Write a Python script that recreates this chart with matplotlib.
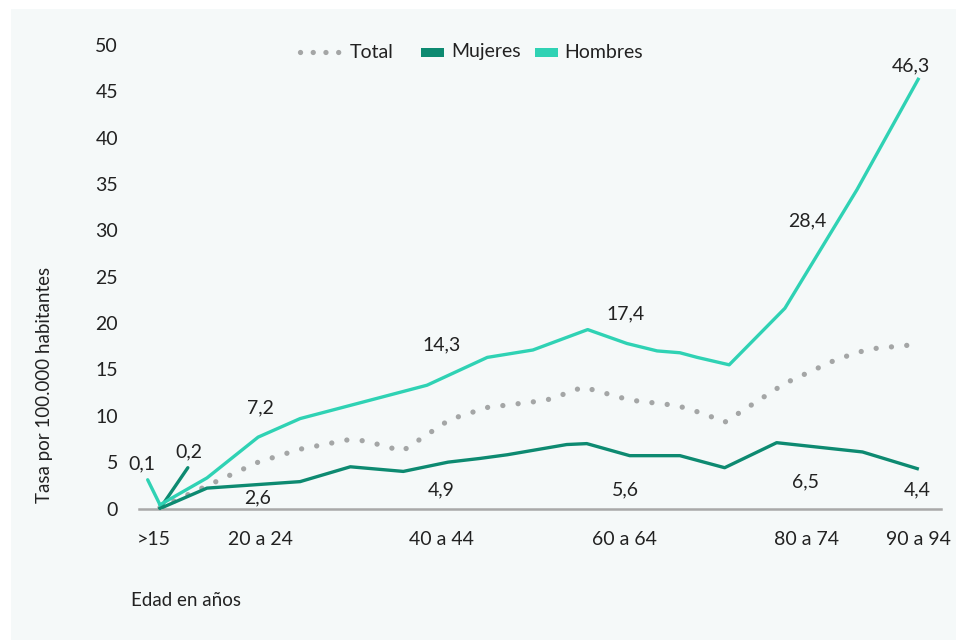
import matplotlib
matplotlib.use("Agg")
import matplotlib.pyplot as plt
from matplotlib.lines import Line2D
from matplotlib.patches import Rectangle

plt.rcParams['font.family'] = ['Lato', 'DejaVu Sans']

# posiciones en eje de edad (aprox.) y tasas por 100.000 habitantes
x_hombres = [11.05, 16.2, 21.8, 26.4, 40.3, 46.9, 51.9, 57.9, 62.2, 65.5, 68.0, 69.9, 73.4, 79.5, 87.4, 94.1]
hombres = [0.4, 3.3, 7.7, 9.7, 13.3, 16.3, 17.1, 19.3, 17.8, 17.0, 16.8, 16.3, 15.5, 21.6, 34.4, 46.3]

x_mujeres = [11.05, 16.2, 26.4, 31.9, 37.7, 42.6, 46.1, 49.1, 55.6, 57.8, 62.5, 68.0, 72.9, 78.6, 88.0, 94.0]
mujeres = [0.0, 2.2, 2.9, 4.5, 4.0, 5.0, 5.4, 5.8, 6.9, 7.0, 5.7, 5.7, 4.4, 7.1, 6.1, 4.3]

x_total = [11.05, 21.8, 26.4, 31.6, 33.5, 37.6, 42.8, 46.9, 51.9, 53.8, 57.4, 62.5, 67.7, 70.7, 72.9, 79.5, 85.2, 88.7, 92.9]
total = [0.1, 5.0, 6.4, 7.4, 7.3, 6.2, 9.6, 10.9, 11.5, 11.8, 13.1, 11.7, 11.1, 10.2, 9.3, 13.5, 16.1, 17.2, 17.6]

tick_pos = [10.4, 22.1, 41.9, 61.9, 81.9, 94.1]
tick_labels = ['>15', '20 a 24', '40 a 44', '60 a 64', '80 a 74', '90 a 94']

# etiquetas de datos: texto, x, y
etiquetas = [
    ('0,1', 9.1, 4.8), ('0,2', 14.2, 6.1),
    ('7,2', 22.1, 10.9), ('2,6', 21.7, 1.1),
    ('14,3', 41.9, 17.6), ('4,9', 41.9, 2.0),
    ('17,4', 62.0, 21.0), ('5,6', 62.0, 2.0),
    ('28,4', 81.9, 31.0), ('6,5', 81.8, 2.9),
    ('46,3', 93.3, 47.8), ('4,4', 94.0, 2.0),
]

c_hombres = '#2fd2b4'
c_mujeres = '#0d8a71'
c_total = '#a4a6a6'
c_texto = '#222222'
fondo = '#f5f9f9'

fig = plt.figure(figsize=(9.6, 6.4), dpi=100, facecolor='white')
fig.patches.append(Rectangle((11 / 960, 0), 945 / 960, 631 / 640, transform=fig.transFigure,
                             facecolor=fondo, edgecolor='none', zorder=-10))

ax = fig.add_axes([139 / 960, 131.5 / 640, 802 / 960, 463.5 / 640])
ax.set_facecolor('none')

ax.plot(x_total, total, color=c_total, lw=3.8, linestyle=(0, (0.01, 2.9)),
        dash_capstyle='round', solid_joinstyle='round', zorder=2)
ax.plot(x_mujeres, mujeres, color=c_mujeres, lw=2.4, solid_joinstyle='round', zorder=3)
ax.plot(x_hombres, hombres, color=c_hombres, lw=2.4, solid_joinstyle='round', zorder=4)

# lineas guia de las etiquetas 0,1 y 0,2
ax.annotate('', xy=(x_hombres[0], hombres[0]), xytext=(9.7, 3.1),
            arrowprops=dict(arrowstyle='-', color=c_hombres, lw=2.4, shrinkA=0, shrinkB=0))
ax.annotate('', xy=(x_mujeres[0], mujeres[0]), xytext=(14.1, 4.4),
            arrowprops=dict(arrowstyle='-', color=c_mujeres, lw=2.4, shrinkA=0, shrinkB=0))

for txt, xx, yy in etiquetas:
    ax.text(xx, yy, txt, ha='center', va='center', fontsize=14, color=c_texto, zorder=5)

ax.set_xlim(8.75, 96.6)
ax.set_ylim(0, 50)
ax.set_yticks(range(0, 51, 5))
ax.set_xticks(tick_pos)
ax.set_xticklabels(tick_labels)
ax.tick_params(axis='both', length=0, labelsize=14, colors=c_texto)
ax.tick_params(axis='y', pad=15)
ax.tick_params(axis='x', pad=16)
for s in ['top', 'right', 'left']:
    ax.spines[s].set_visible(False)
ax.spines['bottom'].set_color('#a9a9a9')
ax.spines['bottom'].set_linewidth(1.8)

fig.text(45 / 960, 1 - 385 / 640, 'Tasa por 100.000 habitantes', rotation=90,
         ha='center', va='center', fontsize=13.5, color=c_texto)
fig.text(131 / 960, 1 - 601 / 640, 'Edad en años', ha='left', va='center',
         fontsize=13.5, color=c_texto)

# leyenda
ly = 1 - 52 / 640
fig.lines.append(Line2D([300 / 960, 340 / 960], [ly, ly], transform=fig.transFigure,
                        color=c_total, lw=3.8, linestyle=(0, (0.01, 2.4)), dash_capstyle='round'))
fig.text(350 / 960, ly, 'Total', ha='left', va='center', fontsize=14, color=c_texto)
fig.patches.append(Rectangle((421 / 960, ly - 4.5 / 640), 23 / 960, 9 / 640, transform=fig.transFigure,
                             facecolor=c_mujeres, edgecolor='none'))
fig.text(451 / 960, ly, 'Mujeres', ha='left', va='center', fontsize=14, color=c_texto)
fig.patches.append(Rectangle((535 / 960, ly - 4.5 / 640), 23 / 960, 9 / 640, transform=fig.transFigure,
                             facecolor=c_hombres, edgecolor='none'))
fig.text(564 / 960, ly, 'Hombres', ha='left', va='center', fontsize=14, color=c_texto)

fig.savefig('out.png', dpi=100, facecolor='white')
